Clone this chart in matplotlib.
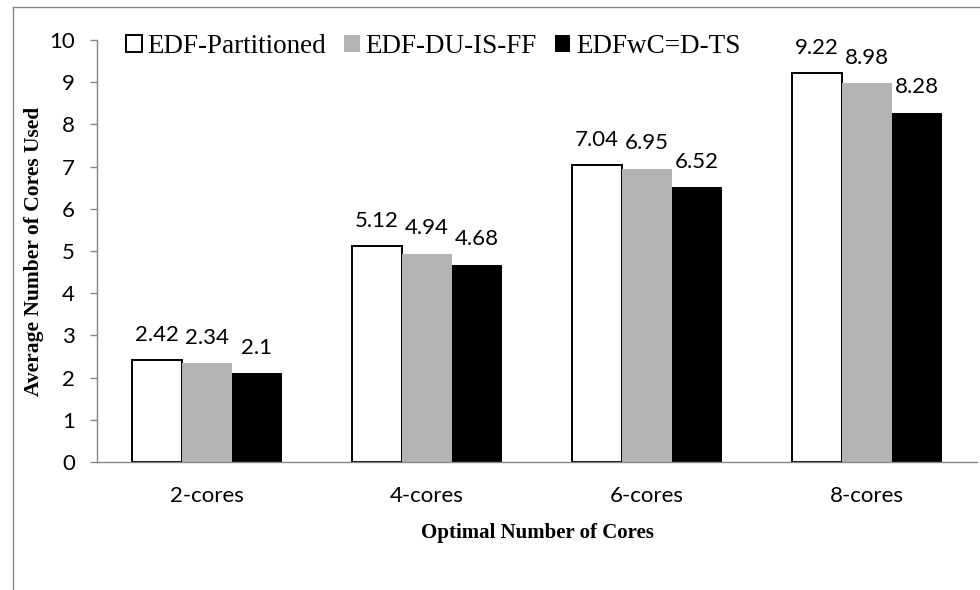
import matplotlib
matplotlib.use("Agg")
import matplotlib.pyplot as plt
from matplotlib.lines import Line2D
from matplotlib.patches import Patch
import numpy as np

categories = ["2-cores", "4-cores", "6-cores", "8-cores"]
series_names = ["EDF-Partitioned", "EDF-DU-IS-FF", "EDFwC=D-TS"]
edf_partitioned = [2.42, 5.12, 7.04, 9.22]
edf_du_is_ff = [2.34, 4.94, 6.95, 8.98]
edfwc_d_ts = [2.1, 4.68, 6.52, 8.28]
y_ticks = list(range(0, 11))

SANS = ["Lato", "DejaVu Sans"]
SERIF = ["Liberation Serif", "DejaVu Serif"]

fig = plt.figure(figsize=(9.8, 5.9), dpi=100)
W, H = 980, 590
ax = fig.add_axes([97 / W, 1 - 462 / H, 880 / W, 422 / H])

x = np.arange(len(categories))
bw = 0.227
styles = [
    dict(facecolor="white", edgecolor="black", linewidth=1.4),
    dict(facecolor="#b3b3b3", edgecolor="#b3b3b3", linewidth=0),
    dict(facecolor="black", edgecolor="black", linewidth=0),
]
all_vals = [edf_partitioned, edf_du_is_ff, edfwc_d_ts]
for i, (vals, st) in enumerate(zip(all_vals, styles)):
    pos = x + (i - 1) * bw
    bars = ax.bar(pos, vals, width=bw, zorder=2, **st)
    for b, v in zip(bars, vals):
        ax.annotate(f"{v:g}", (b.get_x() + b.get_width() / 2, v),
                    xytext=(0, 11), textcoords="offset points",
                    ha="center", va="bottom", fontsize=16, family=SANS)

ax.set_xlim(-0.5, len(categories) - 0.5)
ax.set_ylim(0, 10)
ax.set_yticks(y_ticks)
ax.set_xticks(x)
ax.set_xticklabels(categories, family=SANS, fontsize=16)
for lab in ax.get_yticklabels():
    lab.set_family(SANS)
    lab.set_fontsize(16)
ax.tick_params(axis="x", length=0, pad=17)
ax.tick_params(axis="y", length=5, width=1, color="#868686", pad=11)
for s in ("top", "right"):
    ax.spines[s].set_visible(False)
for s in ("left", "bottom"):
    ax.spines[s].set_color("#868686")
    ax.spines[s].set_linewidth(1)

ax.set_ylabel("Average Number of Cores Used", family=SERIF, fontweight="bold",
              fontsize=15.5)
ax.yaxis.set_label_coords(-0.060, 0.5)
ax.set_xlabel("Optimal Number of Cores", family=SERIF, fontweight="bold",
              fontsize=15)
ax.xaxis.set_label_coords(0.5, -0.145)

handles = [Patch(**st) for st in styles]
handles[0] = Patch(facecolor="white", edgecolor="black", linewidth=1.4)
leg = fig.legend(handles, series_names, loc="upper left",
                 bbox_to_anchor=(126 / W, 1 - 34 / H), ncol=3, frameon=False,
                 prop={"family": SERIF, "size": 19.5}, handlelength=0.58,
                 handleheight=0.58, handletextpad=0.22, columnspacing=0.65,
                 borderpad=0, borderaxespad=0)

# outer chart frame
fig.add_artist(Line2D([13 / W, 1.0], [1 - 7 / H, 1 - 7 / H],
                      transform=fig.transFigure, color="#868686", lw=1))
fig.add_artist(Line2D([13 / W, 13 / W], [0, 1 - 7 / H],
                      transform=fig.transFigure, color="#868686", lw=1))

fig.savefig("out.png", dpi=100)
